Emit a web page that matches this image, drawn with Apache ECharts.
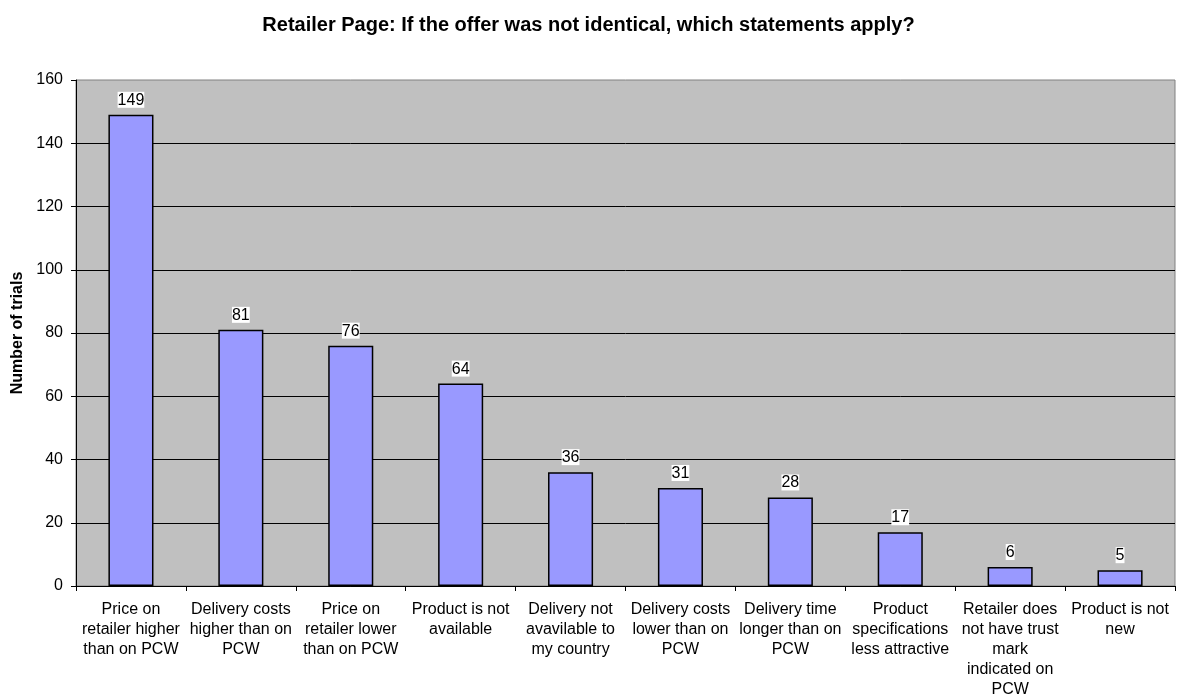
<!DOCTYPE html>
<html>
<head>
<meta charset="utf-8">
<script src="https://cdn.jsdelivr.net/npm/echarts@6/dist/echarts.min.js"></script>
<style>
  html, body { margin: 0; padding: 0; background: #fff; }
  #main { width: 1177px; height: 700px; }
</style>
</head>
<body>
<div id="main"></div>
<script>
  // categories as they wrap in the original
  var categories = [
    'Price on\nretailer higher\nthan on PCW',
    'Delivery costs\nhigher than on\nPCW',
    'Price on\nretailer lower\nthan on PCW',
    'Product is not\navailable',
    'Delivery not\navavilable to\nmy country',
    'Delivery costs\nlower than on\nPCW',
    'Delivery time\nlonger than on\nPCW',
    'Product\nspecifications\nless attractive',
    'Retailer does\nnot have trust\nmark\nindicated on\nPCW',
    'Product is not\nnew'
  ];
  var trials = [149, 81, 76, 64, 36, 31, 28, 17, 6, 5];
  var yTicks = [0, 160, 20];

  var myChart = echarts.init(document.getElementById('main'));
  myChart.setOption({
    animation: false,
    textStyle: { fontFamily: 'Liberation Sans, Arial, sans-serif' },
    title: {
      text: 'Retailer Page: If the offer was not identical, which statements apply?',
      left: 'center',
      top: 10,
      textStyle: { fontSize: 20, fontWeight: 'bold', color: '#000' }
    },
    grid: {
      left: 76, right: 2, top: 80, bottom: 111,
      show: true,
      backgroundColor: '#C0C0C0',
      borderColor: '#808080',
      borderWidth: 1
    },
    xAxis: {
      type: 'category',
      data: categories,
      axisLine: { lineStyle: { color: '#000' } },
      axisTick: { show: true, length: 5, lineStyle: { color: '#000' } },
      axisLabel: {
        interval: 0,
        color: '#000',
        fontSize: 16,
        lineHeight: 20,
        margin: 14
      }
    },
    yAxis: {
      type: 'value',
      min: yTicks[0],
      max: yTicks[1],
      interval: yTicks[2],
      name: 'Number of trials',
      nameLocation: 'middle',
      nameGap: 47,
      nameTextStyle: { fontSize: 16, fontWeight: 'bold', color: '#000' },
      axisLine: { show: true, lineStyle: { color: '#000' } },
      axisTick: { show: true, length: 5, lineStyle: { color: '#000' } },
      axisLabel: { color: '#000', fontSize: 16, margin: 13 },
      splitLine: { show: true, showMaxLine: false, lineStyle: { color: '#000', width: 1 } }
    },
    series: [{
      type: 'bar',
      data: trials,
      barWidth: '41%',
      itemStyle: { color: '#9999FF', borderColor: '#000', borderWidth: 1.5 },
      label: {
        show: true,
        position: 'top',
        distance: 7,
        color: '#000',
        fontSize: 16,
        lineHeight: 15,
        backgroundColor: '#fff',
        padding: [1, 0, 0, 0]
      }
    }]
  });
</script>
</body>
</html>
